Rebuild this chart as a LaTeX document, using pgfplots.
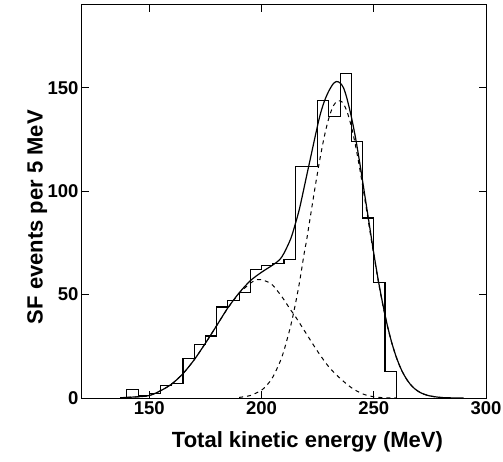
\documentclass[border=0pt]{standalone}
\usepackage{fontspec}
\setmainfont{Liberation Sans}
\usepackage{pgfplots}
\pgfplotsset{compat=1.18}
\begin{document}
\begin{tikzpicture}
\useasboundingbox (-82pt,-63pt) rectangle (421pt,398pt);
\begin{axis}[
    scale only axis,
    width=404pt,
    height=393pt,
    xmin=120, xmax=300,
    ymin=0, ymax=190,
    xtick={150,200,250,300},
    ytick={0,50,100,150},
    tick align=inside,
    major tick length=7pt,
    tick style={line width=0.9pt, black},
    axis line style={line width=1pt},
    /pgf/number format/assume math mode=true,
    ticklabel style={font=\fontsize{18.5}{20}\selectfont\bfseries},
    xlabel={Total kinetic energy (MeV)},
    ylabel={SF events per 5 MeV},
    label style={font=\fontsize{22}{24}\selectfont\bfseries},
    xlabel style={at={(axis description cs:0.558,-0.127)}, anchor=base},
    ylabel style={at={(axis description cs:-0.111,0.46)}, rotate=0, anchor=center},
    clip=false
]

% histogram, 5 MeV bins
\addplot[const plot, line width=1.1pt, black] coordinates {
    (140,0) (140,4) (145,1) (150,2) (155,6) (160,7) (165,19) (170,26)
    (175,30) (180,44) (185,47) (190,51) (195,62) (200,64) (205,65)
    (210,67) (215,112) (220,112) (225,144) (230,136) (235,157) (240,124)
    (245,87) (250,56) (255,13) (260,0)
};

% total fit
\addplot[smooth, line width=1.2pt, black] coordinates {
    (137,0.1) (140,0.3) (145,0.6) (150,1.2) (155,3.5) (160,6.8) (165,11.8)
    (170,18.5) (175,26.5) (180,35) (185,43.6) (190,50.8) (195,56.7)
    (200,60.8) (205,64.3) (208,66.8) (210,70) (213,77) (215,84) (217,92)
    (220,107) (222,117) (224,127) (226,136.5) (228,143.5) (230,148.5)
    (232,152) (233.5,153) (235,152.3) (236.5,150) (238,145) (240,136)
    (242,125) (244,112) (246,98) (248,84) (250,70) (252,57) (254,45.5)
    (256,35.3) (258,26.8) (260,19.9) (262,14.4) (264,10.2) (266,7)
    (268,4.7) (270,3.1) (272,2) (275,1) (280,0.25) (285,0.05) (290,0)
};

% low-energy component
\addplot[smooth, line width=1pt, black, dash pattern=on 4pt off 4pt] coordinates {
    (140,0.3) (145,0.6) (150,1.2) (155,3.5) (160,6.8) (165,11.8) (170,18.5)
    (175,26.5) (180,35) (185,43.5) (190,50.5) (195,55.5) (198,57.3)
    (200,57.2) (203,56) (205,54.5) (208,50.5) (210,47.5) (213,42.5)
    (215,39.5) (220,31) (225,22.5) (230,15) (235,9.5) (240,5) (245,2)
    (250,0.6) (255,0.1) (260,0)
};

% high-energy component
\addplot[smooth, line width=1pt, black, dash pattern=on 4pt off 4pt] coordinates {
    (190,0.3) (195,1.2) (200,3.8) (203,7) (205,10.1) (208,16.9) (210,23)
    (213,35) (215,45) (217,56.5) (219,70) (220,75.8) (222,89.4)
    (224,102.9) (226,115.5) (228,126.6) (230,135.4) (232,141.3)
    (234,143.7) (236,143) (238,138.7) (240,131.3) (242,121.3) (244,109.3)
    (246,96.2) (248,82.6) (250,69.2) (252,56.5) (254,45.1) (256,35.1)
    (258,26.7) (260,19.8) (262,14.3) (264,10.1) (266,7) (268,4.7)
    (270,3.1) (272,2) (275,1) (280,0.25) (285,0.05)
};

\end{axis}
\end{tikzpicture}
\end{document}
